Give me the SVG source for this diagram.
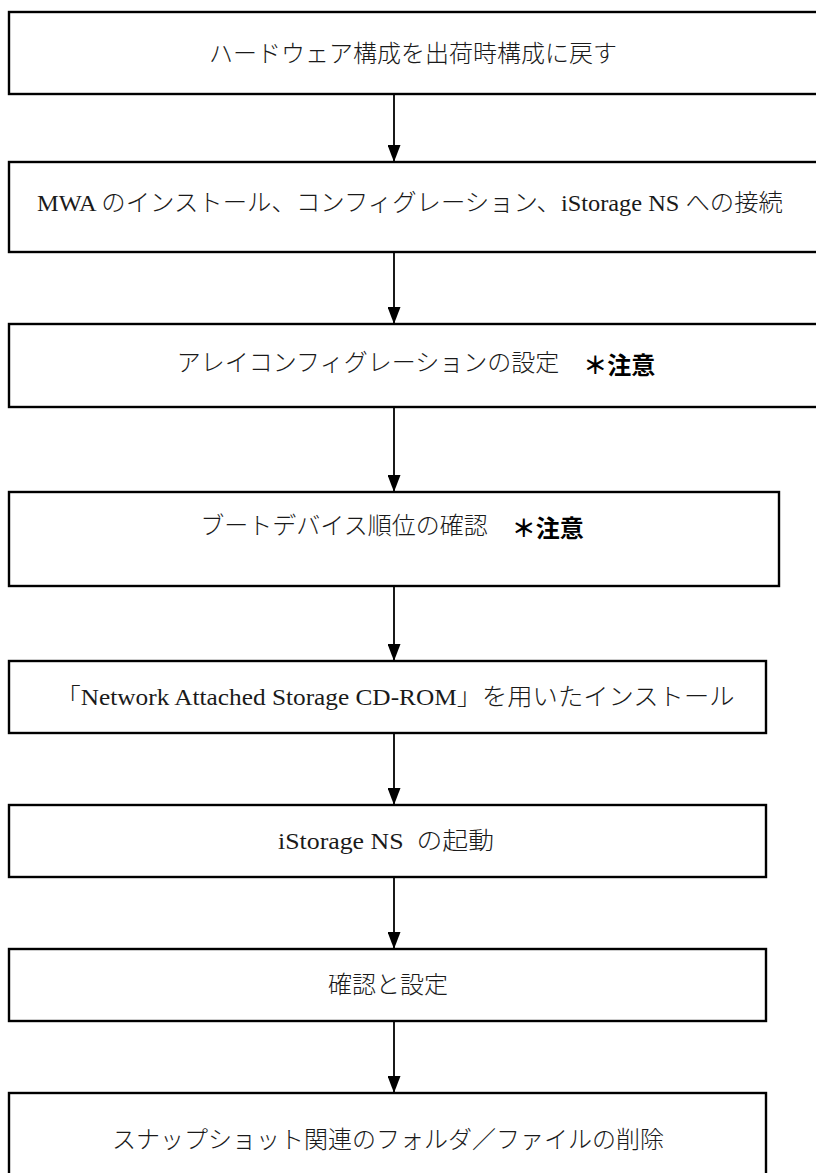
<svg xmlns="http://www.w3.org/2000/svg" width="816" height="1173" viewBox="0 0 816 1173">
  <defs>
    <style>
      .box { fill: #ffffff; stroke: #000000; stroke-width: 2.4; }
      .lbl { font-family: "Liberation Serif", "Noto Sans CJK JP", serif; font-size: 24px; font-weight: 300; fill: #1a1a1a; text-anchor: middle; dominant-baseline: central; }
      .note { font-family: "Noto Sans CJK JP", sans-serif; font-weight: bold; fill: #000000; }
      .conn { fill: none; stroke: #000000; stroke-width: 1.8; }
    </style>
    <marker id="arr" viewBox="0 0 17 13" refX="17" refY="6.5" markerWidth="17" markerHeight="13" markerUnits="userSpaceOnUse" orient="auto">
      <path d="M0,0 L17,6.5 L0,13 z" fill="#000000"/>
    </marker>
  </defs>
  <rect x="0" y="0" width="816" height="1173" fill="#ffffff"/>

  <g id="connectors">
    <line class="conn" x1="394" y1="94" x2="394" y2="162" marker-end="url(#arr)"/>
    <line class="conn" x1="394" y1="252" x2="394" y2="324" marker-end="url(#arr)"/>
    <line class="conn" x1="394" y1="407" x2="394" y2="492" marker-end="url(#arr)"/>
    <line class="conn" x1="394" y1="586" x2="394" y2="661" marker-end="url(#arr)"/>
    <line class="conn" x1="394" y1="733" x2="394" y2="805" marker-end="url(#arr)"/>
    <line class="conn" x1="394" y1="877" x2="394" y2="949" marker-end="url(#arr)"/>
    <line class="conn" x1="394" y1="1021" x2="394" y2="1093" marker-end="url(#arr)"/>
  </g>

  <g id="node1">
    <rect class="box" x="9" y="12" width="813" height="82"/>
    <text class="lbl" x="413" y="54">ハードウェア構成を出荷時構成に戻す</text>
  </g>
  <g id="node2">
    <rect class="box" x="9" y="162" width="813" height="90"/>
    <text class="lbl" x="410" y="203" textLength="746" lengthAdjust="spacingAndGlyphs">MWA のインストール、コンフィグレーション、iStorage NS への接続</text>
  </g>
  <g id="node3">
    <rect class="box" x="9" y="324" width="813" height="83"/>
    <text class="lbl" x="416" y="363">アレイコンフィグレーションの設定　<tspan class="note">＊注意</tspan></text>
  </g>
  <g id="node4">
    <rect class="box" x="9" y="492" width="770" height="94"/>
    <text class="lbl" x="392" y="526">ブートデバイス順位の確認　<tspan class="note">＊注意</tspan></text>
  </g>
  <g id="node5">
    <rect class="box" x="9" y="661" width="757" height="72"/>
    <text class="lbl" x="395" y="697" textLength="679" lengthAdjust="spacingAndGlyphs">「Network Attached Storage CD-ROM」を用いたインストール</text>
  </g>
  <g id="node6">
    <rect class="box" x="9" y="805" width="757" height="72"/>
    <text class="lbl" x="386" y="841" xml:space="preserve" textLength="216" lengthAdjust="spacingAndGlyphs">iStorage NS  の起動</text>
  </g>
  <g id="node7">
    <rect class="box" x="9" y="949" width="757" height="72"/>
    <text class="lbl" x="388" y="985">確認と設定</text>
  </g>
  <g id="node8">
    <rect class="box" x="9" y="1093" width="757" height="100"/>
    <text class="lbl" x="388" y="1140">スナップショット関連のフォルダ／ファイルの削除</text>
  </g>
</svg>
